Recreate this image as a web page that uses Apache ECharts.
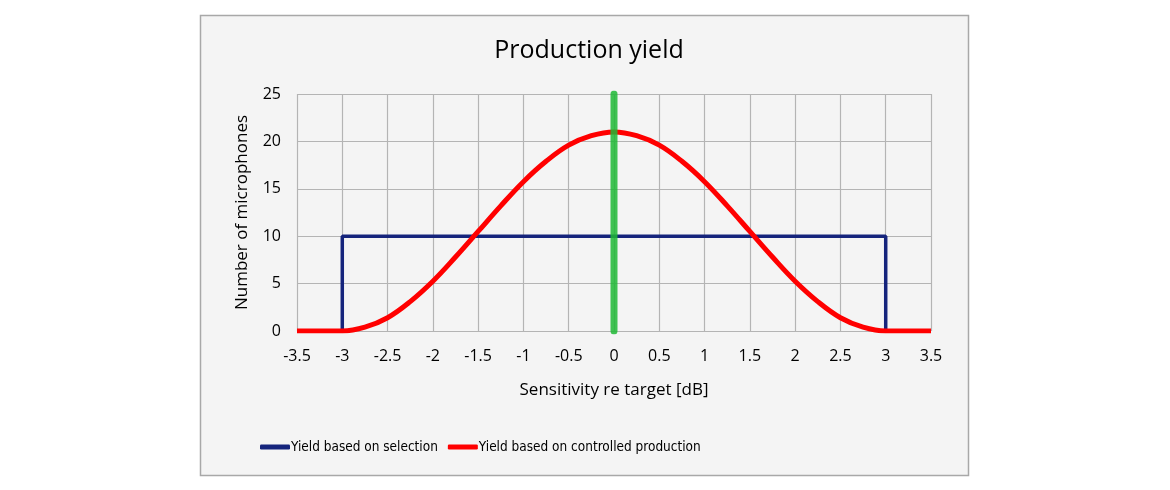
<!DOCTYPE html>
<html><head><meta charset="utf-8">
<script src="https://cdn.jsdelivr.net/npm/echarts@6/dist/echarts.min.js"></script>
<style>html,body{margin:0;padding:0;background:#fff}#c{width:1170px;height:490px}</style>
</head><body><div id="c"></div>
<script>
const xTicks = [-3.5,-3,-2.5,-2,-1.5,-1,-0.5,0,0.5,1,1.5,2,2.5,3,3.5];
const selectionX = [-3, -3, 3, 3];
const selectionY = [0, 10, 10, 0];
const controlledX = [-3.5,-3,-2.75,-2.5,-2.25,-2,-1.75,-1.5,-1.25,-1,-0.75,-0.5,-0.25,0,0.25,0.5,0.75,1,1.25,1.5,1.75,2,2.25,2.5,2.75,3,3.5];
const controlledY = [0,0,0.4,1.4,3.1,5.25,7.8,10.5,13.2,15.75,17.9,19.6,20.6,21,20.6,19.6,17.9,15.75,13.2,10.5,7.8,5.25,3.1,1.4,0.4,0,0];
const targetX = [0, 0];
const targetY = [0, 25];
const pairs = (xs, ys) => xs.map((x, i) => [x, ys[i]]);
const LFONT = '"DejaVu Sans Condensed", sans-serif';
const FONT = 'Open Sans';
const chart = echarts.init(document.getElementById('c'));
chart.setOption({
  animation: false,
  backgroundColor: '#ffffff',
  graphic: [{type:'rect', z:-10, shape:{x:200.5,y:15.5,width:768,height:460}, style:{fill:'#f4f4f4', stroke:'#a8a8a8', lineWidth:1.5}}],
  title: {text:'Production yield', left:584, top:33, textAlign:'center',
    textStyle:{fontFamily:FONT, fontSize:25, fontWeight:'normal', color:'#000'}},
  legend: {left:255, top:435, itemWidth:30, itemHeight:5, itemGap:10,
    icon:'roundRect',
    textStyle:{fontFamily:LFONT, fontSize:13.5, color:'#000', padding:[0,0,0,-4]},
    data:['Yield based on selection','Yield based on controlled production']},
  grid: {left:297, right:239, top:94, bottom:159, containLabel:false},
  xAxis: {type:'value', min:-3.5, max:3.5, interval:0.5,
    name:'Sensitivity re target [dB]', nameLocation:'middle', nameGap:51,
    nameTextStyle:{fontFamily:FONT, fontSize:17, color:'#000'},
    axisLine:{show:false}, axisTick:{show:false},
    axisLabel:{fontFamily:FONT, fontSize:16, color:'#000', margin:17},
    splitLine:{show:true, lineStyle:{color:'#b4b4b4', width:1.2}}},
  yAxis: {type:'value', min:0, max:25, interval:5,
    name:'Number of microphones', nameLocation:'middle', nameGap:46,
    nameTextStyle:{fontFamily:FONT, fontSize:17, color:'#000'},
    axisLine:{show:false}, axisTick:{show:false},
    axisLabel:{fontFamily:FONT, fontSize:16, color:'#000', margin:16},
    splitLine:{show:true, lineStyle:{color:'#b4b4b4', width:1.2}}},
  series: [
    {name:'Yield based on selection', type:'line', data:pairs(selectionX, selectionY),
      showSymbol:false, symbol:'none', color:'#15247c', lineStyle:{width:3.5, color:'#15247c'}, z:3},
    {name:'Yield based on controlled production', type:'line', data:pairs(controlledX, controlledY),
      smooth:0.4, showSymbol:false, symbol:'none', color:'#ff0000', lineStyle:{width:5, color:'#ff0000'}, z:4},
    {name:'target', type:'line', data:pairs(targetX, targetY),
      showSymbol:false, symbol:'none', color:'#1fb835', lineStyle:{width:7, color:'#1fb835', opacity:0.85, cap:'round'}, z:5}
  ]
});
</script></body></html>
